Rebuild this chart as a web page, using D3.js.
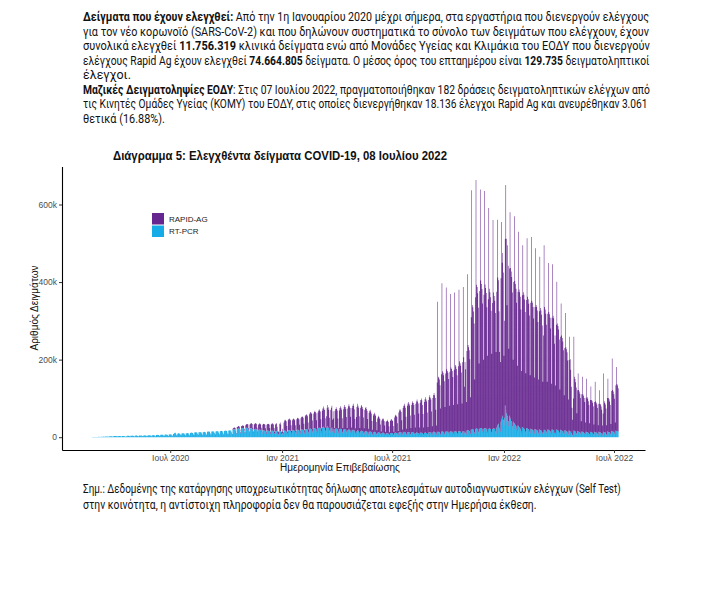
<!DOCTYPE html>
<html><head><meta charset="utf-8">
<script src="https://cdn.jsdelivr.net/npm/d3@7"></script>
<style>body{margin:0;background:#fff}svg{display:block}text{white-space:pre}</style>
</head><body><svg id="c" width="701" height="614"></svg>
<script>
// ---- DATA (daily samples, thousands) ----
const seriesNames = ["RT-PCR", "RAPID-AG"];
const pcrStartDate = "2020-02-24";
const rapidStartDate = "2020-10-12";
const pcr2020 = [
0.3,0.3,0.4,0.4,0.5,0.4,0.3, 0.6,0.7,0.8,0.9,1.0,0.8,0.6, 1.1,1.2,1.3,1.4,1.5,1.2,0.9, 1.6,1.8,1.9,2.0,2.1,1.7,1.2,
2.2,2.4,2.5,2.6,2.7,2.1,1.5, 2.8,2.9,3.0,3.1,3.2,2.5,1.7, 3.0,3.1,3.2,3.0,2.8,2.2,1.6, 3.1,3.3,3.4,3.2,2.2,1.8,1.5,
2.5,3.5,3.7,3.6,3.5,2.8,2.0, 3.8,3.9,4.0,4.1,3.9,3.0,2.1, 4.0,4.2,4.3,4.1,4.0,3.1,2.2, 4.2,4.4,4.5,4.3,4.2,3.3,2.3,
4.5,4.7,4.8,4.6,4.5,3.5,2.4, 4.7,5.0,5.1,4.9,4.8,3.6,2.5, 5.0,5.3,5.5,5.2,5.0,3.8,2.7, 5.5,5.8,6.0,5.7,5.5,4.2,2.9,
6.0,6.3,6.5,6.2,6.0,4.5,3.1, 6.5,6.8,7.0,6.7,6.5,4.9,3.4, 7.0,7.3,7.5,7.2,7.0,5.2,3.6, 8,9,11,12,10,7,4.5,
9,10,10,9.5,9,7,4.8, 9.5,10,10.5,10,9.5,7.2,5, 10,10.5,11,10.5,10,7.5,5.2, 11,11.5,12,11.5,11,8.2,5.6,
12,12.5,13,12.5,12,9,6, 12.5,13,13.5,13,12.5,9.3,6.2, 13,13.5,14,13.5,13,9.6,6.5, 14,14.5,15,14.5,14,10.5,7,
14.5,15,15.5,15,14.5,11,7.3, 15,15.5,16,15.5,15,11.3,7.5, 15.5,16,16.5,16,15.5,11.6,7.8, 16,16.5,17,16.5,16,12,8,
17,17.5,18,17.5,17,12.7,8.5, 19,20,21,20,19,14,9.5, 21,22,23,22,21,16,10.5, 22,23,24,23,22,16.5,11,
23,24,25,24,23,17,11.5, 22,23,24,23,22,16.5,11, 20,21,22,21,20,15,10, 18,19,20,19,18,13.5,9,
17,18,18,17,16,12,8.5, 16,17,17,16,16,12,8, 16,17,17,16,15,11,8, 15,16,16,12,8,7,7, 15,16,15,8];
const pcr2021 = [6,10,7,
16,17,17,16,15,11,8, 17,18,18,17,16,12,8, 17,18,18,17,16,12,8, 18,19,19,18,17,12,9,
19,20,20,19,18,13,9, 20,21,21,20,19,14,10, 21,22,22,21,20,15,10, 22,23,23,22,21,15,11,
23,24,25,24,23,16,11, 24,26,27,25,24,17,12, 24,26,28,25,23,17,12, 23,24,25,15,22,16,11,
21,22,23,22,21,15,10, 20,21,22,21,20,14,10, 19,20,21,20,19,14,9, 18,19,20,19,18,13,9,
17,18,19,18,17,12,8, 12,16,18,17,16,12,8, 15,16,17,16,15,11,7, 14,15,16,15,14,10,7,
13,14,15,14,13,9,6, 12,13,14,13,12,9,6, 11,12,13,12,11,8,5, 10,11,12,11,10,7,5,
9,10,11,10,9,7,5, 10,11,11,10,10,7,5, 11,12,12,11,11,8,5, 12,13,13,12,12,8,6,
12,13,14,13,12,9,6, 12,13,13,12,12,8,6, 12,13,13,12,11,8,6, 11,12,12,11,11,8,5,
11,12,12,11,11,8,5, 11,12,12,11,11,8,5, 12,13,13,12,12,8,6, 13,14,14,13,12,9,6,
13,14,14,13,13,9,6, 14,15,15,14,13,9,6, 14,15,15,14,14,10,7, 14,15,15,14,14,10,7,
14,15,16,15,14,10,7, 15,16,16,15,14,10,7, 15,16,16,10,14,10,7, 17,18,18,17,16,11,8,
19,20,21,20,19,13,9, 21,22,23,22,21,14,10, 22,23,24,23,22,15,10, 22,23,24,23,22,15,10,
21,22,23,22,21,14,10, 21,22,23,22,22,15,10, 25,28,32,35,25,20,14, 40,45,50,55,45];
const pcr2022 = [30,50,
82,70,62,40,55,42,28, 55,50,46,42,38,28,20, 40,36,33,30,28,20,14, 30,28,26,24,22,16,11,
26,25,24,22,20,15,10, 24,23,22,21,19,14,10, 22,21,20,19,18,13,9, 21,20,19,18,17,12,9,
20,19,18,17,16,12,8, 12,19,18,17,16,12,8, 20,19,18,17,16,12,8, 20,19,18,17,11,12,8,
20,19,18,17,16,12,8, 19,18,17,16,15,11,8, 18,17,16,15,14,10,7, 17,16,15,14,10,6,5,
10,17,16,15,14,10,7, 16,15,14,13,12,9,6, 15,14,13,12,11,8,6, 14,13,13,12,11,8,6,
14,13,12,12,11,8,5, 14,13,12,12,11,8,5, 14,13,12,12,11,8,5, 11,14,13,12,12,8,5,
15,14,13,13,12,9,6, 16,15,15,14,13,9,6, 17,16,16,15,14];
const rapid2020 = [
3,4,4,5,5,3,1.5, 5,5,6,6,6,4,2, 6,6,7,7,7,5,2.5, 8,9,9,10,10,7,3,
11,12,12,13,12,8,4, 13,14,14,15,14,10,5, 14,15,16,16,15,11,5, 15,16,17,17,16,11,6,
16,17,18,18,17,12,6, 17,18,19,19,18,13,6, 18,19,20,15,6,8,7, 20,22,18,6];
const rapid2021 = [8,12,6,
22,26,28,27,26,18,7, 27,29,30,29,28,19,8, 27,29,30,29,28,19,8, 28,30,31,30,29,20,8,
30,32,34,33,32,22,9, 34,36,38,37,35,24,10, 38,41,43,42,40,28,11, 39,42,45,43,41,29,12,
41,44,47,45,43,30,12, 44,48,52,49,46,32,13, 30,50,55,52,48,33,13, 48,52,56,30,45,32,13,
47,51,54,51,48,33,13, 49,54,58,55,51,35,14, 53,58,62,58,54,38,15, 56,61,65,61,57,40,16,
58,63,67,63,55,35,15, 40,62,68,64,60,42,16, 60,64,66,62,58,40,16, 56,60,62,58,54,37,15,
50,54,56,52,48,33,13, 44,47,49,46,43,30,12, 37,40,42,39,36,25,10, 33,35,37,35,32,23,9,
30,32,34,32,30,21,8, 32,34,36,34,32,22,9, 40,43,46,44,41,28,11, 52,56,60,57,53,36,14,
63,68,72,68,64,44,16, 69,74,78,74,70,48,18, 71,76,80,76,72,50,19, 75,80,85,81,76,53,20,
78,84,88,84,72,52,20, 80,86,91,86,81,56,21, 84,90,95,90,85,58,22, 88,95,100,95,89,62,24,
128,335,142,140,136,125,68, 148,382,155,152,147,135,72, 150,371,160,157,152,140,74, 155,354,165,162,157,145,76,
160,358,170,167,162,150,78, 168,364,180,176,170,157,80, 178,371,190,120,180,165,84, 205,402,220,215,208,190,95,
290,617,320,315,305,280,140, 340,641,370,365,350,320,180, 355,616,380,372,360,330,190, 345,612,370,362,350,320,200,
335,569,360,352,340,312,205, 325,538,350,342,330,305,210, 350,533,380,370,300,200,180, 370,510,400,420,380];
const rapid2022 = [180,250,
430,580,450,300,440,400,200, 380,530,390,385,375,345,180, 360,534,370,365,355,327,170, 345,502,355,350,340,313,160,
340,470,350,345,335,308,155, 330,490,340,335,325,300,150, 325,495,332,328,318,293,145, 315,467,322,318,310,285,140,
305,446,315,310,300,276,135, 250,476,318,312,302,278,135, 298,430,305,300,292,268,130, 288,427,295,290,230,250,125,
270,382,275,270,262,240,115, 240,327,245,240,232,213,100, 212,303,216,212,205,188,90, 182,243,186,160,120,70,40,
90,242,140,135,128,118,55, 105,149,108,105,100,92,35, 96,142,98,95,90,83,32, 88,138,90,87,82,75,30,
82,118,84,82,78,72,28, 77,130,80,77,73,67,26, 72,108,74,72,68,63,25, 50,150,80,76,72,66,26,
86,137,88,85,80,74,28, 103,188,107,104,98,90,32, 117,165,121,118,112];
const xTickDates = ["2020-07-01","2021-01-01","2021-07-01","2022-01-01","2022-07-01"];
const xTickLabels = ["Ιουλ 2020","Ιαν 2021","Ιουλ 2021","Ιαν 2022","Ιουλ 2022"];
const yTickValues = [0, 200, 400, 600];
const yTickLabels = ["0", "200k", "400k", "600k"];

// ---- BUILD ----
const parse = d3.utcParse("%Y-%m-%d");
const svg = d3.select("#c");
svg.append("rect").attr("width",701).attr("height",614).attr("fill","#fff");

const pcrAll = [].concat(pcr2020, pcr2021, pcr2022);
const rapidAll = [].concat(rapid2020, rapid2021, rapid2022);
const pcrStart = parse(pcrStartDate), rapidStart = parse(rapidStartDate);
const rOff = d3.utcDay.count(pcrStart, rapidStart);
const nDays = Math.max(pcrAll.length, rOff + rapidAll.length);
const days = d3.range(nDays).map(i => ({
  date: d3.utcDay.offset(pcrStart, i),
  pcr: pcrAll[i] || 0,
  rapid: (i >= rOff ? rapidAll[i - rOff] : 0) || 0
}));

const x = d3.scaleUtc().domain([parse("2020-01-05"), parse("2022-08-21")]).range([62, 645]);
const y = d3.scaleLinear().domain([-33, 698]).range([450, 166.5]);
const color = d3.scaleOrdinal().domain(["pcr","rapid"]).range(["#14abe6","#66268f"]);

const stacked = d3.stack().keys(["pcr","rapid"])(days);
const dayW = x(d3.utcDay.offset(pcrStart,1)) - x(pcrStart);
const bw = dayW * 0.9;
// one path per series so neighbouring thin bars blend with true coverage
const gBars = svg.append("g");
stacked.forEach(s => {
  const p = d3.path();
  s.forEach(d => {
    const h = y(d[0]) - y(d[1]);
    if (h > 0) p.rect(x(d.data.date) - bw/2, y(d[1]), bw, h);
  });
  gBars.append("path").attr("d", p.toString()).attr("fill", color(s.key));
});

// axes
const tickFont = "'Liberation Sans', Arial, sans-serif";
const yAxis = d3.axisLeft(y).tickValues(yTickValues)
  .tickFormat((d,i) => yTickLabels[i]).tickSize(3).tickSizeOuter(0).tickPadding(2);
const gy = svg.append("g").attr("transform","translate(62,0)").call(yAxis);
const xAxis = d3.axisBottom(x).tickValues(xTickDates.map(parse))
  .tickFormat((d,i) => xTickLabels[i]).tickSize(3).tickSizeOuter(0).tickPadding(2);
const gx = svg.append("g").attr("transform","translate(0,450)").call(xAxis);
[gx, gy].forEach(g => {
  g.select(".domain").attr("stroke","#000").attr("stroke-width",1.1);
  g.selectAll(".tick line").attr("stroke","#333").attr("stroke-width",1);
  g.selectAll(".tick text").attr("fill","#4d4d4d").attr("font-family",tickFont).attr("font-size",8.5);
});

// axis titles
svg.append("text").attr("x",340).attr("y",471).attr("text-anchor","middle")
  .attr("font-family",tickFont).attr("font-size",10).attr("fill","#111").text("Ημερομηνία Επιβεβαίωσης");
svg.append("text").attr("transform","translate(38,308) rotate(-90)").attr("text-anchor","middle")
  .attr("font-family",tickFont).attr("font-size",10).attr("fill","#111").text("Αριθμός Δειγμάτων");

// chart title
svg.append("text").attr("x",113).attr("y",160).attr("font-family",tickFont).attr("font-weight","bold")
  .attr("font-size",12).attr("fill","#111").attr("textLength",334).attr("lengthAdjust","spacingAndGlyphs")
  .text("Διάγραμμα 5: Ελεγχθέντα δείγματα COVID-19, 08 Ιουλίου 2022");

// legend
const legendItems = [{key:"rapid",label:"RAPID-AG"},{key:"pcr",label:"RT-PCR"}];
const lg = svg.append("g").attr("transform","translate(152,213)");
legendItems.forEach((it,i) => {
  lg.append("rect").attr("x",0).attr("y",i*12.5).attr("width",12).attr("height",11.5).attr("fill",color(it.key));
  lg.append("text").attr("x",17).attr("y",i*12.5+8.5).attr("font-family",tickFont).attr("font-size",8)
    .attr("fill","#222").text(it.label);
});

// paragraph text: sized so the natural width matches, then stretched vertically
const bodyFont = "Roboto, 'Open Sans', 'Noto Sans', sans-serif";
const BASE = 13.5;
function textLine(yb, segs, len) {
  const g = svg.append("g");
  const t = g.append("text").attr("x",0).attr("y",0).attr("font-family",bodyFont)
    .attr("font-size",BASE).attr("fill","#111");
  segs.forEach(s => t.append("tspan").attr("font-weight", s[1] ? 700 : 400).text(s[0]));
  const nat = t.node().getComputedTextLength();
  const fs = BASE * len / nat;
  t.attr("font-size", fs);
  g.attr("transform", `translate(83,${yb}) scale(1,${BASE/fs})`);
}
textLine(21, [["Δείγματα που έχουν ελεγχθεί:",1],[" Από την 1η Ιανουαρίου 2020 μέχρι σήμερα, στα εργαστήρια που διενεργούν ελέγχους",0]], 567);
textLine(35.5, [["για τον νέο κορωνοϊό (SARS-CoV-2) και που δηλώνουν συστηματικά το σύνολο των δειγμάτων που ελέγχουν, έχουν",0]], 567);
textLine(50, [["συνολικά ελεγχθεί ",0],["11.756.319",1],[" κλινικά δείγματα ενώ από Μονάδες Υγείας και Κλιμάκια του ΕΟΔΥ που διενεργούν",0]], 567);
textLine(64.5, [["ελέγχους Rapid Ag έχουν ελεγχθεί ",0],["74.664.805",1],[" δείγματα. Ο μέσος όρος του επταημέρου είναι ",0],["129.735",1],[" δειγματοληπτικοί",0]], 567);
textLine(79, [["έλεγχοι.",0]], 48);
textLine(93.5, [["Μαζικές Δειγματοληψίες ΕΟΔΥ",1],[": Στις 07 Ιουλίου 2022, πραγματοποιήθηκαν 182 δράσεις δειγματοληπτικών ελέγχων από",0]], 567);
textLine(108, [["τις Κινητές Ομάδες Υγείας (ΚΟΜΥ) του ΕΟΔΥ, στις οποίες διενεργήθηκαν 18.136 έλεγχοι Rapid Ag και ανευρέθηκαν 3.061",0]], 565);
textLine(122.5, [["θετικά (16.88%).",0]], 82);

textLine(493, [["Σημ.: Δεδομένης της κατάργησης υποχρεωτικότητας δήλωσης αποτελεσμάτων αυτοδιαγνωστικών ελέγχων (Self Test)",0]], 538);
textLine(509, [["στην κοινότητα, η αντίστοιχη πληροφορία δεν θα παρουσιάζεται εφεξής στην Ημερήσια έκθεση.",0]], 454);
</script></body></html>
